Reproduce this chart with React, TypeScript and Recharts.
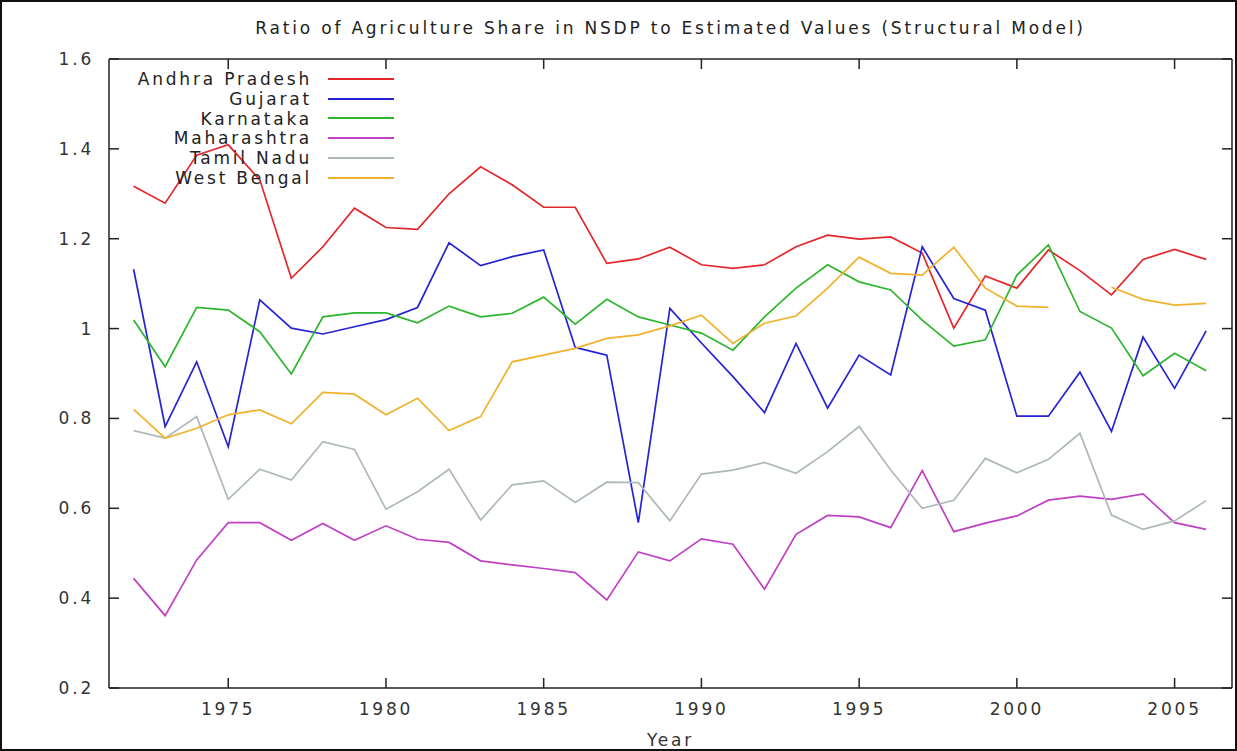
import { LineChart, Line, XAxis, YAxis, ReferenceLine } from "recharts"

const years = [
  1972, 1973, 1974, 1975, 1976, 1977, 1978, 1979, 1980, 1981, 1982, 1983,
  1984, 1985, 1986, 1987, 1988, 1989, 1990, 1991, 1992, 1993, 1994, 1995,
  1996, 1997, 1998, 1999, 2000, 2001, 2002, 2003, 2004, 2005, 2006,
]

const andhraPradesh = [
  1.317, 1.279, 1.386, 1.409, 1.331, 1.112, 1.182, 1.268, 1.225, 1.221, 1.3, 1.36,
  1.32, 1.27, 1.27, 1.145, 1.155, 1.181, 1.142, 1.134, 1.142, 1.182, 1.208, 1.199,
  1.204, 1.168, 1.001, 1.117, 1.09, 1.175, 1.129, 1.075, 1.154, 1.176, 1.154,
]
const gujarat = [
  1.132, 0.782, 0.926, 0.737, 1.064, 1.001, 0.988, 1.004, 1.02, 1.047, 1.191, 1.14,
  1.16, 1.175, 0.958, 0.941, 0.568, 1.045, 0.968, 0.893, 0.813, 0.967, 0.823, 0.941,
  0.897, 1.182, 1.067, 1.041, 0.805, 0.805, 0.903, 0.771, 0.981, 0.867, 0.995,
]
const karnataka = [
  1.019, 0.915, 1.047, 1.041, 0.993, 0.899, 1.026, 1.035, 1.035, 1.013, 1.05, 1.026,
  1.034, 1.07, 1.01, 1.065, 1.026, 1.008, 0.99, 0.952, 1.026, 1.09, 1.142, 1.104,
  1.086, 1.019, 0.961, 0.975, 1.119, 1.186, 1.038, 1.001, 0.895, 0.945, 0.906,
]
const maharashtra = [
  0.444, 0.361, 0.485, 0.568, 0.568, 0.529, 0.566, 0.529, 0.561, 0.531, 0.524, 0.483,
  0.474, 0.466, 0.457, 0.396, 0.503, 0.483, 0.532, 0.52, 0.42, 0.542, 0.584, 0.581,
  0.557, 0.684, 0.548, 0.567, 0.583, 0.618, 0.627, 0.62, 0.632, 0.568, 0.553,
]
const tamilNadu = [
  0.773, 0.756, 0.804, 0.62, 0.687, 0.663, 0.748, 0.731, 0.598, 0.637, 0.687, 0.574,
  0.652, 0.661, 0.613, 0.658, 0.657, 0.572, 0.676, 0.685, 0.702, 0.678, 0.726, 0.782,
  0.685, 0.6, 0.618, 0.711, 0.679, 0.709, 0.767, 0.585, 0.553, 0.572, 0.617,
]
// 2002 is missing for West Bengal (gap in the line)
const westBengal = [
  0.82, 0.756, 0.778, 0.808, 0.819, 0.788, 0.858, 0.854, 0.808, 0.845, 0.773, 0.804,
  0.926, 0.941, 0.956, 0.978, 0.986, 1.006, 1.03, 0.967, 1.012, 1.028, 1.09, 1.159,
  1.123, 1.119, 1.181, 1.09, 1.05, 1.047, null, 1.092, 1.065, 1.052, 1.056,
]

const xTicks = [1975, 1980, 1985, 1990, 1995, 2000, 2005]
const yTicks = [0.2, 0.4, 0.6, 0.8, 1, 1.2, 1.4, 1.6]

const series = [
  { key: "ap", name: "Andhra Pradesh", values: andhraPradesh, color: "#e4262b" },
  { key: "gj", name: "Gujarat", values: gujarat, color: "#2424d6" },
  { key: "ka", name: "Karnataka", values: karnataka, color: "#2eb52e" },
  { key: "mh", name: "Maharashtra", values: maharashtra, color: "#c040c4" },
  { key: "tn", name: "Tamil Nadu", values: tamilNadu, color: "#adb9b9" },
  { key: "wb", name: "West Bengal", values: westBengal, color: "#f0b12c" },
]

const chartData = years.map((year, i) => {
  const row: Record<string, number | null> = { year }
  series.forEach((s) => (row[s.key] = s.values[i]))
  return row
})

const X_MIN = 1971.22
const X_MAX = 2006.82
const Y_MIN = 0.2
const Y_MAX = 1.6

const W = 1237
const H = 751
const M = { top: 59, right: 5, bottom: 0, left: 0 }
const Y_AXIS_W = 109
const X_AXIS_H = 63
const plotW = W - M.left - M.right - Y_AXIS_W
const plotH = H - M.top - M.bottom - X_AXIS_H

// inward tick length (10px) expressed in data units, so the library's scales place the ticks
const TICK_PX = 10
const tickDx = (TICK_PX * (X_MAX - X_MIN)) / plotW
const tickDy = (TICK_PX * (Y_MAX - Y_MIN)) / plotH

const font = "'DejaVu Sans', Verdana, sans-serif"
const textColor = "#333"
const axisColor = "#222"

const fmtY = (v: number) => String(Math.round(v * 10) / 10)
const tickText = { fill: textColor, fontSize: 17, fontFamily: font, letterSpacing: 2.8 }

export default function App() {
  return (
    <div style={{ position: "absolute", left: 0, top: 0, width: W, height: H, background: "#fff" }}>
      <div
        style={{
          position: "absolute", left: 109, top: 18, width: 1123, textAlign: "center",
          fontFamily: font, fontSize: 17, letterSpacing: 2.8, color: "#222", lineHeight: "20px",
          whiteSpace: "nowrap",
        }}
      >
        Ratio of Agriculture Share in NSDP to Estimated Values (Structural Model)
      </div>
      <LineChart width={W} height={H} data={chartData} margin={M}>
        <XAxis
          dataKey="year"
          type="number"
          domain={[X_MIN, X_MAX]}
          ticks={xTicks}
          interval={0}
          height={X_AXIS_H}
          stroke={axisColor}
          strokeWidth={1.5}
          tickLine={false}
          tickSize={0}
          tickMargin={15}
          tick={tickText}
          label={{ value: "Year", position: "insideBottom", offset: 5, ...tickText }}
        />
        <YAxis
          type="number"
          domain={[Y_MIN, Y_MAX]}
          ticks={yTicks}
          interval={0}
          width={Y_AXIS_W}
          stroke={axisColor}
          strokeWidth={1.5}
          tickLine={false}
          tickSize={0}
          tickMargin={15}
          tick={tickText}
          tickFormatter={fmtY}
        />
        {/* top and right borders of the gnuplot frame */}
        <ReferenceLine y={Y_MAX} stroke={axisColor} strokeWidth={1.5} ifOverflow="visible" />
        <ReferenceLine x={X_MAX} stroke={axisColor} strokeWidth={1.5} ifOverflow="visible" />
        {xTicks.map((t) => (
          <ReferenceLine key={`b${t}`} segment={[{ x: t, y: Y_MIN }, { x: t, y: Y_MIN + tickDy }]} stroke={axisColor} strokeWidth={1.5} ifOverflow="visible" />
        ))}
        {xTicks.map((t) => (
          <ReferenceLine key={`t${t}`} segment={[{ x: t, y: Y_MAX }, { x: t, y: Y_MAX - tickDy }]} stroke={axisColor} strokeWidth={1.5} ifOverflow="visible" />
        ))}
        {yTicks.map((t) => (
          <ReferenceLine key={`l${t}`} segment={[{ x: X_MIN, y: t }, { x: X_MIN + tickDx, y: t }]} stroke={axisColor} strokeWidth={1.5} ifOverflow="visible" />
        ))}
        {yTicks.map((t) => (
          <ReferenceLine key={`r${t}`} segment={[{ x: X_MAX, y: t }, { x: X_MAX - tickDx, y: t }]} stroke={axisColor} strokeWidth={1.5} ifOverflow="visible" />
        ))}
        {series.map((s) => (
          <Line
            key={s.key}
            dataKey={s.key}
            name={s.name}
            stroke={s.color}
            strokeWidth={1.7}
            dot={false}
            connectNulls={false}
            isAnimationActive={false}
          />
        ))}
      </LineChart>
      <div style={{ position: "absolute", left: 100, top: 69, fontFamily: font, fontSize: 17, letterSpacing: 2.8, color: "#222" }}>
        {series.map((s) => (
          <div key={s.key} style={{ display: "flex", alignItems: "center", height: 19.8 }}>
            <span style={{ width: 212, textAlign: "right", whiteSpace: "nowrap" }}>{s.name}</span>
            <span style={{ display: "inline-block", width: 66, height: 2, background: s.color, marginLeft: 16 }} />
          </div>
        ))}
      </div>
      <div style={{ position: "absolute", inset: 0, border: "2px solid #111", pointerEvents: "none" }} />
    </div>
  )
}
